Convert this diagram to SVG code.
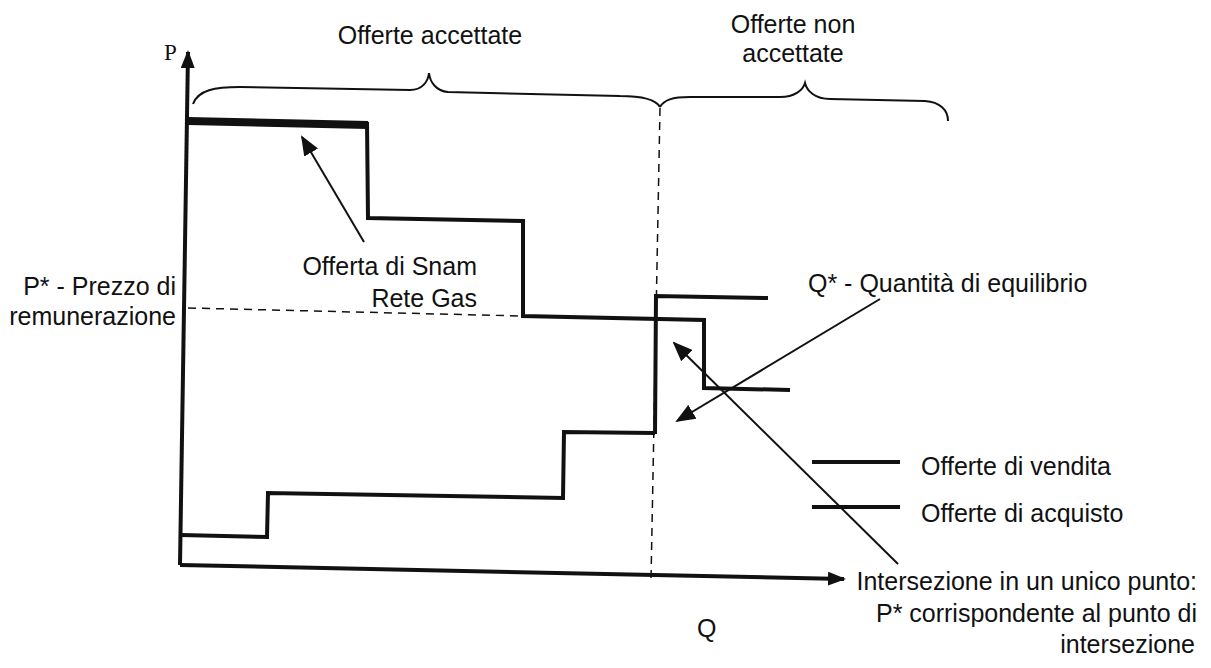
<svg xmlns="http://www.w3.org/2000/svg" width="1211" height="668" viewBox="0 0 1211 668">
<style>
.t{font-family:"Liberation Sans",Arial,sans-serif;font-size:25px;fill:#111}
.s{font-family:"Liberation Serif","Times New Roman",serif;font-size:23px;fill:#111}
.ax{stroke:#111;stroke-width:4;fill:none}
.cv{stroke:#111;stroke-width:4;fill:none;stroke-linejoin:miter}
.br{stroke:#111;stroke-width:2;fill:none}
.ar{stroke:#111;stroke-width:2;fill:none}
.dash{stroke:#111;stroke-width:1.5;fill:none;stroke-dasharray:8 6}
</style>
<defs>
<marker id="ah" markerWidth="20" markerHeight="16" refX="18" refY="8" orient="auto" markerUnits="userSpaceOnUse">
<path d="M0,0 L20,8 L0,16 Z" fill="#111"/>
</marker>
<marker id="axh" markerWidth="18" markerHeight="14" refX="16" refY="7" orient="auto" markerUnits="userSpaceOnUse">
<path d="M0,0 L18,7 L0,14 Z" fill="#111"/>
</marker>
</defs>
<rect width="1211" height="668" fill="#fff"/>

<g id="axes">
<path class="ax" d="M180,565 L188,52" marker-end="url(#axh)"/>
<path class="ax" d="M180,565 L844,579" marker-end="url(#axh)"/>
<text class="s" x="164" y="60">P</text>
<text class="t" x="697" y="637">Q</text>
</g>

<g id="braces">
<path class="br" d="M193,104 C198,90 215,87 240,87 L410,90 C422,90 428,82 429,73 C430,82 436,91 448,92 L620,96 C645,96 656,100 660,107"/>
<path class="br" d="M660,107 C664,100 672,97 690,97 L780,97 C795,97 803,90 805,83 C807,91 815,99 830,99 L925,101 C940,102 948,110 948,121"/>
<text class="t" x="430" y="44" text-anchor="middle">Offerte accettate</text>
<text class="t" x="793" y="33" text-anchor="middle">Offerte non</text>
<text class="t" x="793" y="62" text-anchor="middle">accettate</text>
</g>

<g id="guides">
<path class="dash" d="M660,108 L651,580"/>
<path class="dash" d="M188,308 L522,316"/>
<text class="t" x="176" y="295" text-anchor="end">P* - Prezzo di</text>
<text class="t" x="176" y="325" text-anchor="end">remunerazione</text>
</g>

<g id="sell-curve">
<path d="M188,121 L368,125" stroke="#111" stroke-width="8" fill="none"/>
<path class="cv" d="M367,122 L368,218 L523,221 L523,316 L704,320 L704,388 L790,390"/>
</g>

<g id="buy-curve">
<path class="cv" d="M181,535 L267,537 L268,493 L563,498 L564,432 L655,433"/>
<path class="cv" stroke-width="5" d="M655,434 L656,296 L768,298"/>
</g>

<g id="labels">
<text class="t" x="477" y="275" text-anchor="end">Offerta di Snam</text>
<text class="t" x="477" y="307" text-anchor="end">Rete Gas</text>
<text class="t" x="808" y="292">Q* - Quantità di equilibrio</text>
</g>

<g id="connectors">
<path class="ar" d="M364,242 L302,137" marker-end="url(#ah)"/>
<path class="ar" d="M880,299 L677,421" marker-end="url(#ah)"/>
<path class="ar" d="M898,564 L674,343" marker-end="url(#ah)"/>
</g>

<g id="legend">
<path class="cv" d="M812,462 L900,462"/>
<path class="cv" d="M812,507 L900,507"/>
<text class="t" x="921" y="475">Offerte di vendita</text>
<text class="t" x="921" y="522">Offerte di acquisto</text>
</g>

<g id="note">
<text class="t" x="1197" y="590" text-anchor="end">Intersezione in un unico punto:</text>
<text class="t" x="1197" y="622" text-anchor="end">P* corrispondente al punto di</text>
<text class="t" x="1195" y="653" text-anchor="end">intersezione</text>
</g>
</svg>
